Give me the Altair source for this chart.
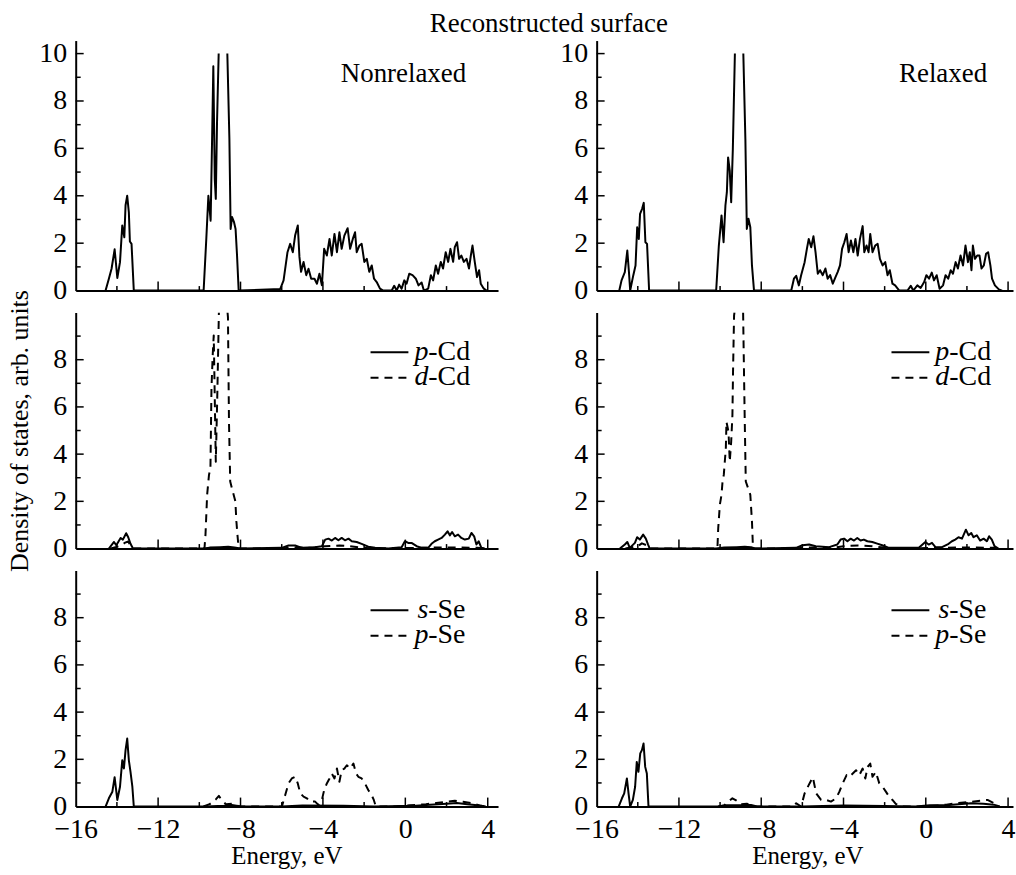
import altair as alt
import pandas as pd

FONT = "Liberation Serif"
DASH = [8, 6]

# ---------------- axes / ticks ----------------
X_DOMAIN_L = [-16, 4.5]
X_DOMAIN_R = [-16, 4.24]
X_LABELS = [-16, -12, -8, -4, 0, 4]
X_MAJOR = [-12, -8, -4, 0, 4]
X_MINOR = [-14, -10, -6, -2, 2]
TOP_DOMAIN = [0, 10.55]
DOMAIN = [0, 10]
Y_LABELS_TOP = [0, 2, 4, 6, 8, 10]
Y_LABELS = [0, 2, 4, 6, 8]
Y_MAJOR_TOP = [2, 4, 6, 8, 10]
Y_MAJOR = [2, 4, 6, 8]
Y_MINOR = [1, 3, 5, 7, 9]

# ---------------- data: (energy eV, DOS); None = curve clipped above the frame ----------------
NR_TOTAL = [(-14.55, 0), (-14.39, 0.5), (-14.26, 0.92), (-14.11, 1.74), (-13.98, 0.53), (-13.85, 1.2),
            (-13.74, 2.75), (-13.64, 2.25), (-13.58, 3.6), (-13.50, 4.0), (-13.42, 3.3), (-13.37, 2.07),
            (-13.29, 1.97), (-13.18, 0),
            (-9.79, 0), (-9.66, 2.2), (-9.56, 4.0), (-9.45, 2.95), (-9.38, 6.4), (-9.32, 9.47), (-9.25, 4.7),
            (-9.20, 3.87), (-9.14, 7.1), (-9.06, 10.0), None, (-8.64, 10.0), (-8.54, 6.4), (-8.48, 2.6),
            (-8.41, 3.1), (-8.32, 2.9), (-8.24, 2.6), (-8.17, 1.5), (-8.09, 0),
            (-6.07, 0.07), (-5.91, 0.43), (-5.72, 1.62), (-5.59, 1.97), (-5.46, 1.62), (-5.35, 2.32),
            (-5.22, 2.75), (-5.14, 1.42), (-5.06, 0.79), (-4.94, 1.21), (-4.81, 0.65), (-4.70, 0.92),
            (-4.57, 0.5), (-4.41, 0.5), (-4.29, 0.29), (-4.17, 0.71), (-4.05, 0.22), (-3.94, 1.76),
            (-3.81, 1.48), (-3.68, 2.18), (-3.57, 1.48), (-3.44, 2.39), (-3.32, 1.62), (-3.20, 2.46),
            (-3.09, 1.76), (-2.96, 2.32), (-2.80, 2.63), (-2.68, 1.76), (-2.55, 2.18), (-2.44, 2.46),
            (-2.36, 1.62), (-2.23, 1.9), (-2.12, 1.97), (-1.99, 1.21), (-1.87, 1.34), (-1.75, 0.79),
            (-1.63, 1.06), (-1.52, 0.5), (-1.39, 0.36), (-1.23, 0.08), (-1.07, 0), (-0.66, 0), (-0.54, 0.2),
            (-0.42, 0), (-0.30, 0.25), (-0.18, 0.08), (-0.05, 0.43), (0.06, 0.29), (0.19, 0.71), (0.35, 0.65),
            (0.51, 0.5), (0.64, 0.22), (0.79, 0.34), (0.90, 0), (1.11, 0.08), (1.24, 0.65), (1.35, 0.43),
            (1.48, 1.06), (1.59, 0.71), (1.72, 1.21), (1.83, 0.93), (1.96, 1.62), (2.08, 1.21), (2.19, 1.76),
            (2.32, 1.21), (2.40, 1.83), (2.51, 2.04), (2.61, 1.34), (2.72, 1.48), (2.84, 1.21), (2.97, 1.34),
            (3.09, 0.93), (3.18, 1.48), (3.26, 1.9), (3.37, 1.21), (3.48, 0.57), (3.58, 0.86), (3.66, 0.29),
            (3.81, 0.08), (3.94, 0)]

R_TOTAL = [(-14.90, 0), (-14.79, 0.43), (-14.63, 0.78), (-14.51, 1.69), (-14.43, 0.78), (-14.37, 0),
           (-14.22, 0.64), (-14.11, 1.06), (-14.03, 2.67), (-13.95, 2.18), (-13.89, 3.24), (-13.79, 3.45),
           (-13.71, 3.70), (-13.63, 2.04), (-13.55, 1.97), (-13.45, 0),
           (-10.19, 0), (-10.06, 1.9), (-9.93, 3.17), (-9.83, 2.04), (-9.74, 3.59), (-9.67, 4.15),
           (-9.61, 5.62), (-9.53, 5.06), (-9.46, 3.73), (-9.38, 5.97), (-9.28, 10.0), None, (-8.87, 10.0),
           (-8.77, 6.39), (-8.70, 2.6), (-8.62, 3.03), (-8.53, 2.67), (-8.45, 1.06), (-8.35, 0),
           (-6.54, 0), (-6.41, 0.5), (-6.30, 0.62), (-6.17, 0.22), (-6.06, 0.65), (-5.89, 1.2), (-5.78, 1.76),
           (-5.69, 2.18), (-5.57, 1.83), (-5.46, 2.29), (-5.36, 1.62), (-5.25, 0.71), (-5.14, 0.86),
           (-5.01, 0.65), (-4.88, 0.93), (-4.77, 0.5), (-4.65, 0.65), (-4.52, 0.29), (-4.39, 0.57),
           (-4.28, 0.79), (-4.17, 1.06), (-4.07, 1.76), (-3.96, 2.04), (-3.85, 2.39), (-3.75, 1.62),
           (-3.64, 2.11), (-3.52, 1.62), (-3.42, 2.18), (-3.31, 1.48), (-3.20, 2.18), (-3.07, 2.72),
           (-2.99, 1.62), (-2.88, 1.9), (-2.78, 1.62), (-2.70, 2.39), (-2.59, 1.62), (-2.46, 1.9),
           (-2.34, 1.97), (-2.23, 1.34), (-2.10, 1.06), (-1.97, 1.2), (-1.86, 0.65), (-1.75, 0.86),
           (-1.62, 0.29), (-1.49, 0.22), (-1.29, 0), (-0.89, 0), (-0.73, 0.2), (-0.61, 0), (-0.41, 0.22),
           (-0.25, 0.11), (-0.08, 0.36), (0.03, 0.65), (0.16, 0.5), (0.29, 0.76), (0.40, 0.43), (0.53, 0.65),
           (0.67, 0.08), (0.84, 0.22), (0.96, 0.65), (1.09, 0.5), (1.21, 0.86), (1.32, 0.71), (1.45, 1.2),
           (1.56, 0.93), (1.69, 1.48), (1.81, 1.06), (1.93, 1.9), (2.05, 1.2), (2.14, 1.62), (2.22, 0.86),
           (2.29, 1.9), (2.39, 1.34), (2.50, 1.48), (2.61, 1.48), (2.71, 0.93), (2.82, 1.06), (2.93, 1.55),
           (3.03, 1.62), (3.14, 1.06), (3.22, 0.5), (3.36, 0.22), (3.55, 0.05), (3.71, 0)]

NR_PCD = [(-14.39, 0), (-14.14, 0.28), (-14.03, 0.14), (-13.82, 0.45), (-13.71, 0.38), (-13.55, 0.65),
          (-13.45, 0.48), (-13.34, 0.2), (-13.22, 0), (-9.8, 0), (-9.5, 0.04), (-9.0, 0.06), (-8.6, 0.08),
          (-8.3, 0.05), (-8.0, 0), (-6.0, 0.03), (-5.67, 0.13), (-5.35, 0.13), (-5.02, 0.03), (-4.38, 0.06),
          (-4.05, 0.1), (-3.89, 0.38), (-3.73, 0.42), (-3.57, 0.34), (-3.41, 0.45), (-3.25, 0.35),
          (-3.09, 0.45), (-2.93, 0.35), (-2.76, 0.42), (-2.60, 0.31), (-2.36, 0.28), (-2.12, 0.2),
          (-1.80, 0.08), (-1.47, 0.03), (-0.83, 0), (-0.18, 0.06), (-0.02, 0.31), (0.14, 0.24), (0.30, 0.24),
          (0.55, 0.1), (0.79, 0.03), (1.11, 0.03), (1.27, 0.2), (1.43, 0.31), (1.59, 0.38), (1.76, 0.45),
          (1.92, 0.59), (2.05, 0.73), (2.16, 0.56), (2.27, 0.7), (2.40, 0.52), (2.56, 0.59), (2.72, 0.45),
          (2.89, 0.38), (3.08, 0.42), (3.21, 0.66), (3.34, 0.52), (3.45, 0.17), (3.56, 0.31), (3.69, 0.03),
          (3.85, 0)]

NR_DCD = [(-14.3, 0), (-13.9, 0.1), (-13.6, 0.25), (-13.45, 0.3), (-13.3, 0.05), (-13.2, 0), (-9.75, 0),
          (-9.70, 0.59), (-9.62, 2.28), (-9.53, 3.12), (-9.46, 3.4), (-9.41, 6.78), (-9.35, 8.19),
          (-9.30, 9.03), (-9.25, 6.36), (-9.20, 3.68), (-9.13, 6.36), (-9.05, 10.0), None, (-8.63, 10.0),
          (-8.61, 9.8), (-8.56, 5.37), (-8.50, 2.84), (-8.42, 2.56), (-8.25, 2.0), (-8.20, 1.15),
          (-8.15, 0.59), (-8.09, 0), (-6.0, 0), (-5.5, 0.05), (-4.5, 0.03), (-3.9, 0.1), (-3.2, 0.13),
          (-2.7, 0.1), (-2.2, 0.05), (-1.6, 0), (0.0, 0.02), (2.0, 0.05), (3.5, 0.03), (3.9, 0)]

R_PCD = [(-14.87, 0), (-14.63, 0.17), (-14.51, 0.28), (-14.39, 0.03), (-14.14, 0.24), (-14.03, 0.48),
         (-13.90, 0.38), (-13.74, 0.59), (-13.61, 0.42), (-13.50, 0.17), (-13.42, 0), (-10.2, 0),
         (-9.8, 0.04), (-9.2, 0.06), (-8.8, 0.08), (-8.5, 0.06), (-8.3, 0), (-6.31, 0.03), (-5.99, 0.14),
         (-5.67, 0.17), (-5.35, 0.1), (-4.70, 0.06), (-4.30, 0.17), (-4.14, 0.38), (-3.97, 0.42),
         (-3.81, 0.31), (-3.65, 0.42), (-3.49, 0.34), (-3.33, 0.45), (-3.17, 0.34), (-3.01, 0.38),
         (-2.84, 0.31), (-2.60, 0.28), (-2.36, 0.21), (-2.12, 0.14), (-1.79, 0.03), (-0.34, 0.03),
         (-0.02, 0.28), (0.14, 0.17), (0.30, 0.24), (0.47, 0.06), (0.79, 0.06), (1.11, 0.2), (1.27, 0.31),
         (1.43, 0.38), (1.59, 0.48), (1.76, 0.42), (1.95, 0.8), (2.08, 0.56), (2.21, 0.66), (2.32, 0.48),
         (2.48, 0.56), (2.64, 0.34), (2.81, 0.42), (2.97, 0.31), (3.08, 0.52), (3.21, 0.38), (3.34, 0.1),
         (3.53, 0)]

R_DCD = [(-14.6, 0), (-14.0, 0.1), (-13.8, 0.22), (-13.6, 0.15), (-13.45, 0), (-10.13, 0), (-10.09, 0.87),
         (-10.01, 1.86), (-9.93, 2.28), (-9.88, 2.84), (-9.82, 3.12), (-9.72, 4.25), (-9.69, 5.37),
         (-9.59, 4.95), (-9.53, 3.68), (-9.46, 4.53), (-9.40, 5.65), (-9.37, 7.48), (-9.32, 9.87),
         (-9.30, 10.0), None, (-8.88, 10.0), (-8.85, 8.2), (-8.80, 5.37), (-8.75, 2.84), (-8.64, 2.56),
         (-8.53, 2.28), (-8.45, 1.15), (-8.40, 0), (-6.3, 0), (-5.8, 0.05), (-4.5, 0.03), (-4.0, 0.1),
         (-3.3, 0.13), (-2.6, 0.1), (-2.0, 0.04), (-1.5, 0), (0.0, 0.02), (2.0, 0.05), (3.3, 0.03), (3.6, 0)]

NR_SSE = [(-14.55, 0), (-14.39, 0.35), (-14.22, 0.63), (-14.11, 1.24), (-13.98, 0.28), (-13.85, 0.84),
          (-13.74, 1.96), (-13.66, 1.61), (-13.58, 2.39), (-13.50, 2.88), (-13.42, 1.96), (-13.34, 1.47),
          (-13.25, 0.84), (-13.18, 0), (-9.7, 0), (-8.8, 0.03), (-8.5, 0.08), (-8.2, 0.03), (-8.0, 0),
          (-6.0, 0), (-5.0, 0.04), (-3.0, 0.03), (-1.5, 0), (0.5, 0.03), (1.2, 0.08), (2.0, 0.12),
          (2.5, 0.15), (3.0, 0.1), (3.5, 0.05), (3.9, 0)]

NR_PSE = [(-9.8, 0), (-9.5, 0.1), (-9.2, 0.3), (-9.05, 0.45), (-8.9, 0.25), (-8.7, 0.1), (-8.4, 0.12),
          (-8.2, 0.05), (-8.0, 0), (-5.99, 0), (-5.83, 0.49), (-5.67, 0.98), (-5.51, 1.19), (-5.35, 1.26),
          (-5.22, 0.98), (-5.10, 0.56), (-4.94, 0.42), (-4.78, 0.35), (-4.62, 0.21), (-4.38, 0.21),
          (-4.22, 0.07), (-4.05, 0.28), (-3.94, 0.7), (-3.81, 0.98), (-3.68, 1.19), (-3.57, 1.4),
          (-3.44, 1.19), (-3.32, 1.61), (-3.20, 1.05), (-3.09, 1.54), (-2.96, 1.61), (-2.84, 1.75),
          (-2.68, 1.61), (-2.52, 1.82), (-2.39, 1.4), (-2.28, 1.26), (-2.12, 1.19), (-1.96, 0.98),
          (-1.80, 0.7), (-1.64, 0.49), (-1.53, 0.28), (-1.43, 0), (-0.5, 0), (0.2, 0.05), (1.0, 0.1),
          (1.5, 0.15), (2.0, 0.2), (2.4, 0.25), (2.8, 0.2), (3.2, 0.15), (3.6, 0.05), (3.9, 0)]

R_SSE = [(-14.93, 0), (-14.77, 0.35), (-14.66, 0.56), (-14.53, 1.19), (-14.45, 0.56), (-14.37, 0),
         (-14.24, 0.28), (-14.13, 0.84), (-14.05, 1.89), (-13.97, 1.47), (-13.88, 2.25), (-13.80, 2.39),
         (-13.72, 2.67), (-13.64, 1.68), (-13.56, 1.4), (-13.48, 0), (-10.1, 0), (-9.8, 0.05), (-9.0, 0.05),
         (-8.5, 0.07), (-8.2, 0), (-6.0, 0), (-4.0, 0.04), (-2.0, 0.02), (-0.5, 0), (0.2, 0.06), (1.0, 0.05),
         (1.6, 0.1), (2.2, 0.14), (2.8, 0.12), (3.3, 0.08), (3.6, 0)]

R_PSE = [(-10.1, 0), (-9.8, 0.05), (-9.4, 0.35), (-9.2, 0.25), (-9.0, 0.1), (-8.7, 0.12), (-8.45, 0),
         (-6.45, 0), (-6.30, 0.14), (-6.06, 0), (-5.89, 0.56), (-5.65, 0.98), (-5.49, 1.24), (-5.33, 0.56),
         (-5.09, 0.28), (-4.85, 0.28), (-4.61, 0.21), (-4.36, 0.35), (-4.20, 0.63), (-4.04, 0.98),
         (-3.85, 1.33), (-3.71, 1.26), (-3.55, 1.4), (-3.39, 1.54), (-3.23, 1.33), (-3.07, 1.61),
         (-2.94, 1.19), (-2.83, 1.68), (-2.70, 1.82), (-2.59, 1.26), (-2.43, 1.47), (-2.26, 0.98),
         (-2.10, 0.84), (-1.94, 0.63), (-1.78, 0.42), (-1.62, 0.28), (-1.46, 0.11), (-1.22, 0), (0.0, 0),
         (1.0, 0.08), (1.6, 0.15), (2.2, 0.2), (2.7, 0.25), (3.0, 0.28), (3.3, 0.15), (3.5, 0)]

TITLE = "Reconstructed surface"
Y_TITLE = "Density of states, arb. units"
X_TITLE = "Energy, eV"

# ---------------- layout constants (pixels) ----------------
W_L = 424
W_R = 418
H_TOP = 251
H = 237
LABEL_SIZE = 28
NOTE_SIZE = 27
LEGEND_SIZE = 28
TITLE_SIZE = 27
YTITLE_SIZE = 26
XTITLE_SIZE = 25


def frame(points):
    rows, seg = [], 0
    for p in points:
        if p is None:
            seg += 1
            continue
        rows.append({"E": p[0], "DOS": p[1], "seg": seg})
    return pd.DataFrame(rows)


def x_axis(show):
    kw = dict(values=X_LABELS, ticks=False, tickSize=0, grid=False, domainColor="black",
              domainWidth=2, labels=show, labelFlush=False, title="")
    if show:
        kw.update(labelFont=FONT, labelFontSize=LABEL_SIZE, labelColor="black", labelPadding=9)
    return alt.Axis(**kw)


def y_axis(values, title):
    kw = dict(values=values, ticks=False, tickSize=0, grid=False, domainColor="black", domainWidth=2,
              labelFont=FONT, labelFontSize=LABEL_SIZE, labelColor="black", labelPadding=9)
    if title:
        kw.update(title=title, titleFont=FONT, titleFontSize=YTITLE_SIZE, titleFontWeight="normal",
                  titleColor="black", titlePadding=20)
    else:
        kw.update(title="")
    return alt.Axis(**kw)


def panel(curves, width, xdom, height, ydom, ylabels, ymajor, xshow=False, ytitle=None, note=None,
          legend=None):
    xs = alt.Scale(domain=xdom, nice=False, zero=False)
    ys = alt.Scale(domain=ydom, nice=False, zero=False)
    ax_x = x_axis(xshow)
    ax_y = y_axis(ylabels, ytitle)
    layers = []
    for pts, dash in curves:
        props = dict(color="black", strokeWidth=2, clip=True, strokeJoin="round")
        if dash:
            props["strokeDash"] = dash
        layers.append(alt.Chart(frame(pts)).mark_line(**props).encode(
            x=alt.X("E:Q", scale=xs, axis=ax_x), y=alt.Y("DOS:Q", scale=ys, axis=ax_y), detail="seg:N"))

    # inward tick marks
    for vals, length in ((ymajor, 8), (Y_MINOR, 5)):
        layers.append(alt.Chart(pd.DataFrame({"v": vals})).mark_rule(color="black", strokeWidth=1.5).encode(
            y=alt.Y("v:Q", scale=ys, axis=ax_y), x=alt.value(0), x2=alt.value(length)))
    for vals, length in ((X_MAJOR, 9), (X_MINOR, 4.5)):
        layers.append(alt.Chart(pd.DataFrame({"v": vals})).mark_rule(color="black", strokeWidth=1.5).encode(
            x=alt.X("v:Q", scale=xs, axis=ax_x), y=alt.value(height), y2=alt.value(height - length)))

    if xshow:
        layers.append(alt.Chart(pd.DataFrame({"t": [X_TITLE]})).mark_text(
            align="center", baseline="alphabetic", font=FONT, fontSize=XTITLE_SIZE, color="black").encode(
            text="t:N", x=alt.value(212), y=alt.value(height + 58)))
    if note:
        layers.append(alt.Chart(pd.DataFrame({"t": [note]})).mark_text(
            align="right", baseline="alphabetic", font=FONT, fontSize=NOTE_SIZE, color="black").encode(
            text="t:N", x=alt.value(392), y=alt.value(42)))
    if legend:
        for k, (letter, rest, dash) in enumerate(legend):
            ly = 40 + 25.5 * k
            ty = 48 + 25 * k
            rp = dict(color="black", strokeWidth=2)
            if dash:
                rp["strokeDash"] = dash
            layers.append(alt.Chart(pd.DataFrame({"a": [0]})).mark_rule(**rp).encode(
                x=alt.value(296), x2=alt.value(334), y=alt.value(ly)))
            layers.append(alt.Chart(pd.DataFrame({"t": [letter]})).mark_text(
                align="right", baseline="alphabetic", font=FONT, fontSize=LEGEND_SIZE, fontStyle="italic",
                color="black").encode(text="t:N", x=alt.value(354), y=alt.value(ty)))
            layers.append(alt.Chart(pd.DataFrame({"t": [rest]})).mark_text(
                align="left", baseline="alphabetic", font=FONT, fontSize=LEGEND_SIZE, color="black").encode(
                text="t:N", x=alt.value(354), y=alt.value(ty)))
    return alt.layer(*layers).properties(width=width, height=height)


top_l = panel([(NR_TOTAL, None)], W_L, X_DOMAIN_L, H_TOP, TOP_DOMAIN, Y_LABELS_TOP, Y_MAJOR_TOP,
              note="Nonrelaxed")
mid_l = panel([(NR_DCD, DASH), (NR_PCD, None)], W_L, X_DOMAIN_L, H, DOMAIN, Y_LABELS, Y_MAJOR,
              ytitle=Y_TITLE, legend=[("p", "-Cd", None), ("d", "-Cd", DASH)])
bot_l = panel([(NR_PSE, DASH), (NR_SSE, None)], W_L, X_DOMAIN_L, H, DOMAIN, Y_LABELS, Y_MAJOR,
              xshow=True, legend=[("s", "-Se", None), ("p", "-Se", DASH)])

top_r = panel([(R_TOTAL, None)], W_R, X_DOMAIN_R, H_TOP, TOP_DOMAIN, Y_LABELS_TOP, Y_MAJOR_TOP,
              note="Relaxed")
mid_r = panel([(R_DCD, DASH), (R_PCD, None)], W_R, X_DOMAIN_R, H, DOMAIN, Y_LABELS, Y_MAJOR,
              legend=[("p", "-Cd", None), ("d", "-Cd", DASH)])
bot_r = panel([(R_PSE, DASH), (R_SSE, None)], W_R, X_DOMAIN_R, H, DOMAIN, Y_LABELS, Y_MAJOR,
              xshow=True, legend=[("s", "-Se", None), ("p", "-Se", DASH)])

chart = alt.concat(top_l, top_r, mid_l, mid_r, bot_l, bot_r, columns=2,
                   spacing={"row": 22, "column": 99}, bounds="flush").properties(
    title=alt.TitleParams(TITLE, font=FONT, fontSize=TITLE_SIZE, fontWeight="normal", color="black",
                          anchor="middle", offset=1, dx=38),
    padding={"left": 6, "top": 8, "right": 0, "bottom": 0},
    background="white",
).configure_view(stroke="transparent")

chart.save("out.html", embed_options={"renderer": "svg", "actions": False})
